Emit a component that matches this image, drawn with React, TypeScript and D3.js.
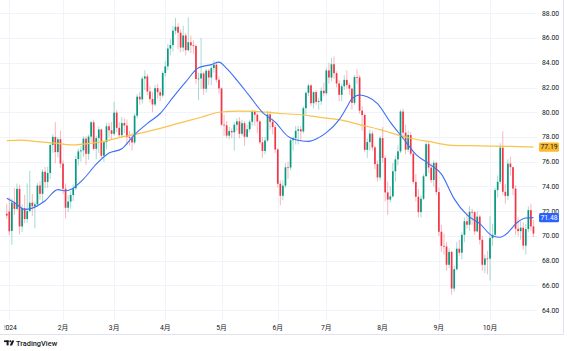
import React, { useRef, useEffect } from "react";
import * as d3 from "d3";

// daily bars: [open, high, low, close]
type Bar = [number, number, number, number];

const dec23: Bar[] = [[71.8, 72.6, 71.4, 71.65]];

const jan: Bar[] = [
  [71.98, 73.13, 70.08, 70.38], [70.41, 73.03, 69.28, 72.7], [72.7, 73.88, 71.7, 72.19],
  [72.19, 74.24, 72.07, 73.81], [73.81, 74.14, 70.13, 70.77], [70.77, 72.56, 70.32, 72.24],
  [72.24, 73.33, 71.03, 71.37], [71.37, 74.26, 71.07, 72.02], [72.02, 75.27, 71.9, 72.68],
  [72.7, 73.4, 71.6, 72.4], [72.4, 72.77, 70.62, 72.56], [72.56, 74.28, 72.35, 74.08],
  [74.08, 74.42, 72.93, 73.41], [73.41, 75.38, 72.73, 75.19], [75.19, 75.58, 73.86, 74.37],
  [74.37, 75.59, 73.86, 75.09], [75.09, 77.5, 74.58, 77.36], [77.36, 78.22, 76.71, 78.01],
  [78.01, 79.2, 75.89, 76.78], [76.78, 78.0, 76.35, 77.82], [77.82, 78.51, 75.51, 75.85],
];

const feb: Bar[] = [
  [75.85, 76.09, 73.4, 73.82], [73.82, 74.25, 71.41, 72.28], [72.28, 73.28, 71.93, 72.78],
  [72.78, 73.61, 72.2, 73.31], [73.31, 74.16, 72.83, 73.86], [73.86, 76.46, 73.7, 76.22],
  [76.22, 77.07, 75.7, 76.84], [76.84, 77.25, 76.0, 76.92], [76.92, 78.05, 76.4, 77.87],
  [77.87, 78.04, 75.76, 76.64], [76.64, 78.2, 76.16, 78.03], [78.03, 79.3, 77.6, 79.19],
  [79.19, 79.4, 76.9, 77.04], [77.04, 78.1, 76.2, 77.91], [77.91, 78.86, 76.7, 78.61],
  [78.61, 78.68, 76.31, 76.49], [76.49, 77.7, 76.0, 77.58], [77.58, 79.15, 77.0, 78.87],
  [78.87, 79.15, 77.95, 78.54], [78.54, 79.2, 77.8, 78.26],
];

const mar: Bar[] = [
  [78.26, 80.85, 78.1, 79.97], [79.97, 80.2, 78.4, 78.74], [78.74, 79.2, 77.93, 78.15],
  [78.15, 79.62, 77.9, 79.13], [79.13, 79.5, 78.3, 78.93], [78.93, 79.42, 77.38, 78.01],
  [78.01, 78.5, 77.3, 77.93], [77.93, 78.3, 76.9, 77.56], [77.56, 79.9, 77.4, 79.72],
  [79.72, 81.48, 79.5, 81.26], [81.26, 81.64, 80.6, 81.04], [81.04, 82.9, 80.7, 82.72],
  [82.72, 83.4, 81.8, 82.9], [82.9, 83.1, 81.38, 81.68], [81.68, 82.1, 80.79, 81.07],
  [81.07, 81.63, 80.0, 80.63], [80.63, 82.2, 80.5, 81.95], [81.95, 82.3, 81.1, 81.62],
  [81.62, 81.9, 80.9, 81.35], [81.35, 83.3, 81.2, 83.17],
];

const apr: Bar[] = [
  [83.17, 84.15, 82.9, 83.71], [83.71, 85.5, 83.4, 85.15], [85.15, 85.9, 84.6, 85.43],
  [85.43, 86.98, 84.9, 86.59], [86.59, 87.63, 86.3, 86.91], [86.91, 87.2, 85.1, 86.43],
  [86.43, 86.7, 84.85, 85.23], [85.23, 87.0, 84.9, 86.21], [86.21, 86.4, 84.6, 85.02],
  [85.02, 87.67, 84.9, 85.66], [85.66, 86.2, 84.8, 85.41], [85.41, 85.8, 84.7, 85.36],
  [85.36, 85.5, 82.3, 82.69], [82.69, 83.2, 81.0, 82.73], [82.73, 86.0, 81.9, 83.14],
  [83.14, 83.3, 81.4, 81.9], [81.9, 83.5, 81.6, 83.36], [83.36, 83.5, 82.2, 82.81],
  [82.81, 83.8, 82.2, 83.57], [83.57, 84.2, 83.2, 83.85], [83.85, 84.0, 82.4, 82.63],
  [82.63, 82.9, 81.5, 81.93],
];

const may: Bar[] = [
  [81.93, 82.0, 78.9, 79.0], [79.0, 79.8, 78.1, 78.95], [78.95, 79.3, 77.9, 78.11],
  [78.11, 78.8, 77.8, 78.48], [78.48, 78.7, 77.9, 78.38], [78.38, 79.2, 76.9, 78.99],
  [78.99, 79.5, 78.5, 79.26], [79.26, 79.6, 77.9, 78.26], [78.26, 79.4, 78.1, 79.12],
  [79.12, 79.3, 77.3, 78.02], [78.02, 79.0, 77.9, 78.63], [78.63, 79.4, 78.4, 79.23],
  [79.23, 80.2, 78.9, 80.06], [80.06, 80.2, 78.9, 79.8], [79.8, 79.9, 78.3, 79.26],
  [79.26, 79.4, 77.4, 77.57], [77.57, 78.0, 76.3, 76.87], [76.87, 78.0, 76.6, 77.72],
  [77.72, 80.1, 77.6, 79.83], [79.83, 80.1, 78.6, 79.23], [79.23, 79.5, 78.2, 78.8],
  [78.8, 79.0, 76.7, 76.99],
];

const jun: Bar[] = [
  [76.99, 77.1, 73.9, 74.22], [74.22, 74.5, 72.48, 73.25], [73.25, 74.5, 72.9, 74.07],
  [74.07, 75.9, 73.9, 75.55], [75.55, 76.0, 74.6, 75.53], [75.53, 77.9, 75.3, 77.74],
  [77.74, 78.0, 76.9, 77.9], [77.9, 78.9, 77.4, 78.5], [78.5, 78.9, 77.4, 78.62],
  [78.62, 78.9, 77.7, 78.45], [78.45, 80.5, 78.3, 80.33], [80.33, 81.7, 79.8, 81.57],
  [81.57, 82.3, 81.3, 82.17], [82.17, 82.3, 80.5, 80.73], [80.73, 81.7, 80.3, 81.63],
  [81.63, 81.8, 80.6, 80.83], [80.83, 81.2, 80.2, 80.9], [80.9, 82.0, 80.6, 81.74],
  [81.74, 82.4, 81.3, 81.54],
];

const jul: Bar[] = [
  [81.54, 83.6, 81.4, 83.38], [83.38, 84.0, 82.3, 82.81], [82.81, 84.4, 82.5, 83.88],
  [83.88, 84.52, 82.7, 83.16], [83.16, 83.3, 82.0, 82.33], [82.33, 82.6, 80.9, 81.41],
  [81.41, 82.3, 80.9, 82.1], [82.1, 83.0, 81.8, 82.62], [82.62, 83.4, 81.9, 82.21],
  [82.21, 82.4, 81.4, 81.91], [81.91, 82.0, 80.2, 80.76], [80.76, 83.0, 80.6, 82.85],
  [82.85, 83.5, 82.3, 82.82], [82.82, 83.0, 79.9, 80.13], [80.13, 80.5, 78.5, 79.78],
  [79.78, 79.9, 76.8, 76.96], [76.96, 77.9, 76.3, 77.59], [77.59, 78.6, 76.9, 78.28],
  [78.28, 78.5, 76.9, 77.16], [77.16, 77.3, 75.4, 75.81], [75.81, 76.1, 74.4, 74.73],
  [74.73, 78.1, 74.5, 77.91],
];

const aug: Bar[] = [
  [77.91, 78.8, 75.9, 76.31], [76.31, 76.5, 72.8, 73.52], [73.52, 74.4, 71.7, 72.94],
  [72.94, 74.0, 72.7, 73.2], [73.2, 75.9, 73.1, 75.23], [75.23, 76.5, 74.4, 76.19],
  [76.19, 77.3, 75.7, 76.84], [76.84, 80.2, 76.7, 80.06], [80.06, 80.3, 77.8, 78.35],
  [78.35, 79.0, 76.6, 76.98], [76.98, 78.5, 76.8, 78.16], [78.16, 78.4, 76.5, 76.65],
  [76.65, 76.8, 74.2, 74.37], [74.37, 75.0, 72.8, 73.17], [73.17, 73.8, 71.5, 71.93],
  [71.93, 73.3, 71.5, 73.01], [73.01, 75.0, 72.9, 74.83], [74.83, 77.6, 74.8, 77.42],
  [77.42, 77.6, 75.1, 75.53], [75.53, 75.9, 74.3, 74.52], [74.52, 76.1, 74.0, 75.91],
  [75.91, 76.0, 73.3, 73.55],
];

const sep: Bar[] = [
  [73.55, 73.9, 70.0, 70.34], [70.34, 70.9, 68.7, 69.2], [69.2, 70.2, 68.5, 69.15],
  [69.15, 69.5, 67.2, 67.67], [67.67, 69.0, 67.4, 68.71], [68.71, 68.8, 65.27, 65.75],
  [65.75, 67.6, 65.5, 67.31], [67.31, 69.5, 67.2, 68.97], [68.97, 69.7, 68.4, 68.65],
  [68.65, 70.3, 68.1, 70.09], [70.09, 71.5, 69.5, 71.19], [71.19, 71.9, 70.6, 70.91],
  [70.91, 72.4, 70.4, 71.95], [71.95, 72.2, 70.9, 71.92], [71.92, 72.0, 70.1, 70.37],
  [70.37, 72.0, 70.3, 71.56], [71.56, 71.7, 69.3, 69.69], [69.69, 70.0, 67.2, 67.67],
  [67.67, 68.5, 67.0, 68.18], [68.18, 68.8, 66.9, 68.17],
];

const oct: Bar[] = [
  [68.17, 71.6, 66.4, 69.83], [69.83, 71.0, 69.2, 70.1], [70.1, 73.9, 69.9, 73.71],
  [73.71, 74.9, 73.1, 74.38], [74.38, 77.5, 74.2, 77.14], [77.14, 78.46, 73.3, 73.57],
  [73.57, 74.2, 72.6, 73.24], [73.24, 76.2, 72.9, 75.85], [75.85, 76.4, 74.9, 75.56],
  [75.56, 75.6, 73.3, 73.83], [73.83, 74.1, 70.1, 70.58], [70.58, 71.5, 70.0, 70.39],
  [70.39, 71.2, 69.7, 70.67], [70.67, 71.1, 68.9, 69.22], [69.22, 71.0, 68.5, 70.56],
  [70.56, 72.4, 70.3, 72.09], [72.09, 72.6, 70.4, 70.77], [70.77, 71.3, 69.9, 70.19],
];

const months = [jan, feb, mar, apr, may, jun, jul, aug, sep, oct];
const monthLabels = ["2024", "2月", "3月", "4月", "5月", "6月", "7月", "8月", "9月", "10月"];
const priceTicks = [64, 66, 68, 70, 72, 74, 76, 78, 80, 82, 84, 86, 88];

// moving averages: [bar index, value]
const maFast: [number, number][] = [
  [0, 73.05], [3, 72.7], [7, 72.15], [10, 72.25], [15, 72.85], [20, 73.75], [23, 73.65],
  [25, 73.75], [30, 74.6], [35, 75.8], [40, 76.7], [45, 77.05], [50, 78.2], [55, 79.1],
  [60, 79.9], [65, 81.2], [70, 82.45], [75, 83.6], [80, 83.85], [83, 84.05], [86, 83.55],
  [90, 82.6], [95, 81.3], [100, 80.0], [105, 79.2], [110, 78.05], [115, 77.7], [118, 77.65],
  [122, 77.95], [125, 78.35], [130, 79.4], [133, 80.4], [135, 81.1], [138, 81.4], [141, 81.25],
  [145, 80.7], [150, 79.2], [155, 77.9], [160, 76.6], [165, 75.85], [170, 75.0], [175, 73.0],
  [180, 71.7], [185, 71.0], [190, 70.0], [193, 69.9], [195, 70.1], [200, 71.15], [203, 71.45],
  [206, 71.48],
];
const maSlow: [number, number][] = [
  [0, 77.7], [5, 77.75], [13, 77.6], [19, 77.5], [25, 77.36], [31, 77.45], [37, 77.6],
  [44, 77.95], [52, 78.3], [60, 78.7], [67, 79.1], [76, 79.6], [83, 80.0], [91, 80.1],
  [99, 80.05], [107, 79.9], [115, 79.8], [122, 79.6], [130, 79.4], [138, 79.0], [146, 78.6],
  [150, 78.35], [158, 77.9], [166, 77.6], [173, 77.35], [181, 77.3], [189, 77.27],
  [197, 77.25], [206, 77.19],
];

const UP = "#089981";
const DOWN = "#F23645";
const FONT = "Roboto, 'Noto Sans CJK JP', sans-serif";

const App = () => {
  const svgRef = useRef<SVGSVGElement>(null);
  const width = 572;
  const height = 351;

  useEffect(() => {
    const svg = d3.select(svgRef.current);
    svg.selectAll("*").remove();

    const bars: Bar[] = [...dec23, ...months.flat()];
    const monthStart: number[] = [];
    let k = dec23.length;
    months.forEach((m) => { monthStart.push(k); k += m.length; });

    const x = d3.scaleLinear().domain([monthStart[1], monthStart[9]]).range([63, 490]);
    const y = d3.scaleLinear().domain([64, 88]).range([310.2, 13.3]);

    const paneRight = 537;
    const paneBottom = 320;

    // grid
    const grid = svg.append("g").attr("stroke", "#F0F3FA").attr("stroke-width", 1);
    grid.selectAll("line.h").data(priceTicks).enter().append("line")
      .attr("x1", 0).attr("x2", paneRight)
      .attr("y1", (d) => Math.round(y(d)) + 0.5).attr("y2", (d) => Math.round(y(d)) + 0.5);
    grid.selectAll("line.v").data(monthStart).enter().append("line")
      .attr("y1", 0).attr("y2", paneBottom)
      .attr("x1", (d) => Math.round(x(d)) + 0.5).attr("x2", (d) => Math.round(x(d)) + 0.5);

    // borders
    svg.append("line").attr("x1", 0).attr("x2", 563.5).attr("y1", 334.5).attr("y2", 334.5)
      .attr("stroke", "#E0E3EB");
    svg.append("line").attr("x1", 563.5).attr("x2", 563.5).attr("y1", 0).attr("y2", 334.5)
      .attr("stroke", "#E0E3EB");

    // candles
    const cg = svg.append("g");
    cg.selectAll("line").data(bars).enter().append("line")
      .attr("x1", (d, i) => x(i)).attr("x2", (d, i) => x(i))
      .attr("y1", (d) => y(d[1])).attr("y2", (d) => y(d[2]))
      .attr("stroke", (d) => (d[3] >= d[0] ? UP : DOWN))
      .attr("stroke-opacity", 0.4)
      .attr("stroke-width", 0.9);
    cg.selectAll("rect").data(bars).enter().append("rect")
      .attr("x", (d, i) => x(i) - 0.85)
      .attr("width", 1.7)
      .attr("y", (d) => y(Math.max(d[0], d[3])))
      .attr("height", (d) => Math.max(0.8, Math.abs(y(d[0]) - y(d[3]))))
      .attr("fill", (d) => (d[3] >= d[0] ? UP : DOWN));

    // moving averages
    const line = d3.line<[number, number]>()
      .x((d) => x(d[0])).y((d) => y(d[1]))
      .curve(d3.curveMonotoneX);
    svg.append("path").datum(maSlow).attr("d", line).attr("fill", "none")
      .attr("stroke", "#FAC34A").attr("stroke-width", 1.2);
    svg.append("path").datum(maFast).attr("d", line).attr("fill", "none")
      .attr("stroke", "#3C6FF5").attr("stroke-width", 1.1);

    // price axis labels
    svg.append("g").selectAll("text").data(priceTicks).enter().append("text")
      .attr("x", 542).attr("y", (d) => y(d) + 2.4)
      .attr("font-family", FONT).attr("font-size", 6.8).attr("fill", "#131722")
      .text((d) => d.toFixed(2));

    // last value badges
    const badges = [
      { v: maSlow[maSlow.length - 1][1], bg: "#F9BA2B", fg: "#131722" },
      { v: maFast[maFast.length - 1][1], bg: "#2962FF", fg: "#FFFFFF" },
    ];
    const bg = svg.append("g").selectAll("g").data(badges).enter().append("g");
    bg.append("rect")
      .attr("x", 539).attr("width", 20)
      .attr("y", (d) => y(d.v) - 4.6).attr("height", 9.2).attr("rx", 1.5)
      .attr("fill", (d) => d.bg);
    bg.append("text")
      .attr("x", 549).attr("y", (d) => y(d.v) + 2.4).attr("text-anchor", "middle")
      .attr("font-family", FONT).attr("font-size", 6.8).attr("fill", (d) => d.fg)
      .text((d) => d.v.toFixed(2));

    // time axis labels
    svg.append("clipPath").attr("id", "tclip").append("rect")
      .attr("x", 4.5).attr("y", 0).attr("width", 560).attr("height", 351);
    svg.append("g").attr("clip-path", "url(#tclip)")
      .selectAll("text").data(monthStart).enter().append("text")
      .attr("x", (d) => x(d)).attr("y", 330.2).attr("text-anchor", "middle")
      .attr("font-family", FONT).attr("font-size", 6.8).attr("fill", "#131722")
      .text((d, i) => monthLabels[i]);

    // TradingView mark
    const logo = svg.append("g").attr("fill", "#131722");
    logo.append("rect").attr("x", 4).attr("y", 340.4).attr("width", 4.6).attr("height", 1.7);
    logo.append("rect").attr("x", 6.6).attr("y", 340.4).attr("width", 2).attr("height", 5);
    logo.append("circle").attr("cx", 10.3).attr("cy", 341.3).attr("r", 0.95);
    logo.append("path").attr("d", "M12,340.4 L14.3,340.4 L12.1,345.4 L9.8,345.4 Z");
    logo.append("text").attr("x", 16).attr("y", 345.6)
      .attr("font-family", FONT).attr("font-size", 7.4).attr("font-weight", 500)
      .text("TradingView");
  }, []);

  return (
    <div style={{ position: "absolute", left: 0, top: 0 }}>
      <svg ref={svgRef} width={width} height={height} style={{ display: "block", background: "#fff" }} />
    </div>
  );
};

export default App;
